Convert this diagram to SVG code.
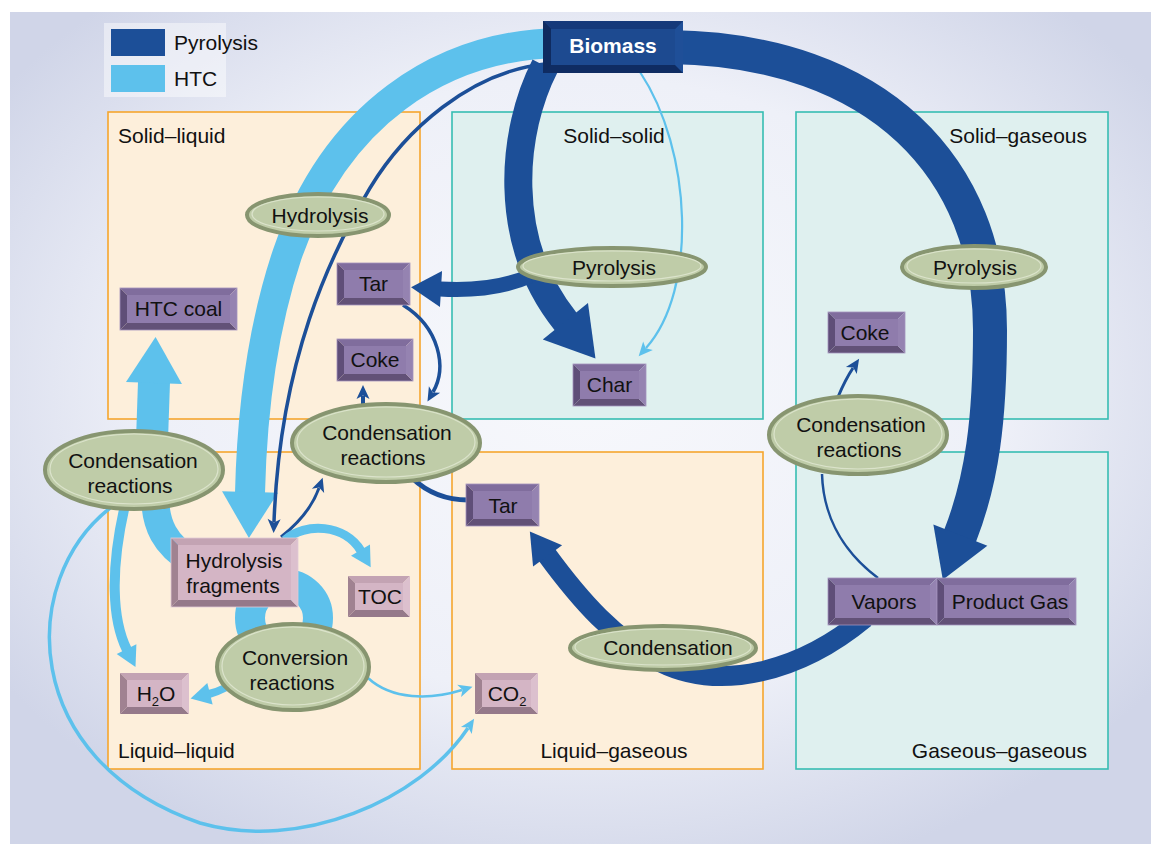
<svg xmlns="http://www.w3.org/2000/svg" width="1161" height="844" viewBox="0 0 1161 844">
<style>
text{font-family:"Liberation Sans",Arial,Helvetica,sans-serif;font-size:21px;fill:#111}
.c{text-anchor:middle}
.r{text-anchor:end}
.po{fill:#fdefdb;stroke:#f5a62d;stroke-width:1.6}
.pt{fill:#dff0ef;stroke:#36bdb2;stroke-width:1.6}
.dk{fill:none;stroke:#1c4f98}
.lt{fill:none;stroke:#5dc1ec}
.el{fill:#bfcca8;stroke:#879570;stroke-width:4}
.eh{fill:none;stroke:#dbe3cb;stroke-width:1.2}
.pf{fill:#8f7cac}.pt_{fill:#806d9d}.pr{fill:#9583b1}.pl{fill:#5f4e78}.pb{fill:#625177}
.kf{fill:#d4b5c5}.kt{fill:#c3a3b3}.kr{fill:#dcc0ce}.kl{fill:#a08291}.kb{fill:#95798a}
.bf{fill:#1d4a90}.bt{fill:#15397a}.br{fill:#1f4f98}.bl{fill:#0f2b60}.bb{fill:#0f2c62}
.edge{fill:none;stroke:#a493bd;stroke-width:0.8}
.edgek{fill:none;stroke:#e2cbd6;stroke-width:0.8}
</style>
<defs>
<radialGradient id="bg" cx="0.5" cy="0.45" r="0.62">
<stop offset="0" stop-color="#f7f8fc"/>
<stop offset="0.6" stop-color="#eef0f8"/>
<stop offset="1" stop-color="#d0d5e8"/>
</radialGradient>
<marker id="aD" markerUnits="userSpaceOnUse" markerWidth="15" markerHeight="14" refX="3" refY="6.5" orient="auto" overflow="visible"><path d="M0,0 L14,6.5 L0,13 L3.5,6.5 z" fill="#1c4f98"/></marker>
<marker id="aL" markerUnits="userSpaceOnUse" markerWidth="15" markerHeight="14" refX="3" refY="6.5" orient="auto" overflow="visible"><path d="M0,0 L14,6.5 L0,13 L3.5,6.5 z" fill="#5dc1ec"/></marker>
<marker id="aLm" markerUnits="userSpaceOnUse" markerWidth="21" markerHeight="23" refX="1" refY="11" orient="auto" overflow="visible"><path d="M0,0 L20,11 L0,22 z" fill="#5dc1ec"/></marker>
<marker id="aLb" markerUnits="userSpaceOnUse" markerWidth="47" markerHeight="57" refX="1" refY="28" orient="auto" overflow="visible"><path d="M0,0 L46,28 L0,56 z" fill="#5dc1ec"/></marker>
<marker id="aDb" markerUnits="userSpaceOnUse" markerWidth="49" markerHeight="59" refX="1" refY="29" orient="auto" overflow="visible"><path d="M0,0 L48,29 L0,58 z" fill="#1c4f98"/></marker>
<marker id="aDm" markerUnits="userSpaceOnUse" markerWidth="31" markerHeight="37" refX="1" refY="18" orient="auto" overflow="visible"><path d="M0,0 L30,18 L0,36 z" fill="#1c4f98"/></marker>
</defs>

<rect x="10" y="12" width="1141" height="832" fill="url(#bg)"/>

<g id="legend">
<rect x="104" y="23" width="122" height="74" fill="#ffffff" opacity="0.45"/>
<rect x="111" y="29" width="54" height="27" fill="#1c4f98"/>
<text x="174" y="50">Pyrolysis</text>
<rect x="111" y="65" width="54" height="27" fill="#5dc1ec"/>
<text x="174" y="86">HTC</text>
</g>

<g id="panels">
<rect class="po" x="108" y="112" width="312" height="307"/>
<rect class="pt" x="452" y="112" width="311" height="307"/>
<rect class="pt" x="796" y="112" width="312" height="307"/>
<rect class="po" x="108" y="452" width="312" height="317"/>
<rect class="po" x="452" y="452" width="311" height="317"/>
<rect class="pt" x="796" y="452" width="312" height="317"/>
<text x="118" y="143">Solid–liquid</text>
<text class="c" x="614" y="143">Solid–solid</text>
<text class="r" x="1087" y="143">Solid–gaseous</text>
<text x="118" y="758">Liquid–liquid</text>
<text class="c" x="614" y="758">Liquid–gaseous</text>
<text class="r" x="1087" y="758">Gaseous–gaseous</text>
</g>

<g id="connectors">
<!-- HTC big band biomass -> hydrolysis fragments -->
<path class="lt" stroke-width="30" d="M 560 43 C 440 45, 335 115, 287 255 C 262 330, 252 410, 250 493" marker-end="url(#aLb)"/>
<!-- Pyrolysis thin line biomass -> hydrolysis fragments -->
<path class="dk" stroke-width="3.5" d="M 545 64 C 470 72, 405 130, 370 188 C 330 255, 280 360, 274 522" marker-end="url(#aD)"/>
<!-- biomass -> char (pyrolysis) -->
<path class="dk" stroke-width="28" d="M 545 66 C 512 130, 500 240, 566 322" marker-end="url(#aDb)"/>
<!-- biomass -> char (HTC) -->
<path class="lt" stroke-width="2.2" d="M 640 72 C 692 150, 698 290, 646 348" marker-end="url(#aL)"/>
<!-- biomass -> vapors/product gas -->
<path class="dk" stroke-width="34" d="M 670 47 C 880 50, 990 170, 990 330 C 990 420, 982 480, 960 536" marker-end="url(#aDb)"/>
<!-- pyrolysis -> tar -->
<path class="dk" stroke-width="15" d="M 530 276 C 505 287, 475 291, 440 289" marker-end="url(#aDm)"/>
<!-- tar -> condensation -->
<path class="dk" stroke-width="3.5" d="M 403 305 C 440 328, 447 368, 433 392" marker-end="url(#aD)"/>
<!-- condensation -> coke -->
<path class="dk" stroke-width="4" d="M 363 406 L 363 396" marker-end="url(#aD)"/>
<!-- condensation -> tar (liquid-gaseous) -->
<path class="dk" stroke-width="5" d="M 412 478 C 430 495, 450 500, 468 500"/>
<!-- hydrolysis fragments -> condensation -->
<path class="dk" stroke-width="3" d="M 281 537 C 300 522, 313 505, 319 488" marker-end="url(#aD)"/>
<!-- vapors -> condensation -> tar -->
<path class="dk" stroke-width="20" d="M 865 618 C 800 672, 720 692, 660 662 C 615 640, 580 600, 547 555" marker-end="url(#aDm)"/>
<!-- vapors -> condensation reactions (right) -->
<path class="dk" stroke-width="2.5" d="M 878 578 C 838 548, 823 510, 822 474"/>
<!-- condensation (right) -> coke -->
<path class="dk" stroke-width="3" d="M 838 397 C 843 385, 847 377, 853 368" marker-end="url(#aD)"/>
<!-- condensation (left) -> HTC coal -->
<path class="lt" stroke-width="32" d="M 152 440 L 154 382" marker-end="url(#aLb)"/>
<!-- condensation (left) <-> hydrolysis fragments -->
<path class="lt" stroke-width="28" d="M 155 495 C 155 525, 165 545, 192 561"/>
<!-- condensation (left) -> H2O -->
<path class="lt" stroke-width="10" d="M 125 505 C 110 570, 112 620, 127 650" marker-end="url(#aLm)"/>
<!-- loop fragments <-> conversion -->
<circle cx="284" cy="618" r="34" fill="none" stroke="#5dc1ec" stroke-width="30"/>
<!-- fragments -> TOC -->
<path class="lt" stroke-width="9" d="M 285 540 C 305 522, 345 524, 361 551" marker-end="url(#aLm)"/>
<!-- conversion -> H2O -->
<path class="lt" stroke-width="8" d="M 240 678 Q 225 690 209 694" marker-end="url(#aLm)"/>
<!-- conversion -> CO2 -->
<path class="lt" stroke-width="2.5" d="M 368 678 C 392 700, 430 700, 462 690" marker-end="url(#aL)"/>
<!-- condensation (left) -> CO2 big loop -->
<path class="lt" stroke-width="3.5" d="M 110 508 C 18 580, 18 760, 200 823 C 300 852, 420 800, 468 728" marker-end="url(#aL)"/>
</g>

<g id="biomass">
<rect class="bb" x="543" y="21" width="140" height="52"/>
<polygon class="bt" points="543,21 683,21 675,29 551,29"/>
<polygon class="bl" points="543,21 551,29 551,65 543,73"/>
<polygon class="bb" points="543,73 551,65 675,65 683,73"/>
<polygon class="br" points="683,21 683,73 675,65 675,29"/>
<rect class="bf" x="551" y="29" width="124" height="36"/>
<text class="c" x="613" y="53" style="fill:#fff;font-weight:bold">Biomass</text>
</g>

<g id="htc-coal">
<polygon class="pt_" points="120,288 237,288 230,295 127,295"/>
<polygon class="pl" points="120,288 127,295 127,323 120,330"/>
<polygon class="pb" points="120,330 127,323 230,323 237,330"/>
<polygon class="pr" points="237,288 237,330 230,323 230,295"/>
<rect class="pf" x="127" y="295" width="103" height="28"/>
<rect class="edge" x="120" y="288" width="117" height="42"/>
<text class="c" x="178.5" y="316">HTC coal</text>
</g>

<g id="tar-top">
<polygon class="pt_" points="337,263 410,263 403,270 344,270"/>
<polygon class="pl" points="337,263 344,270 344,298 337,305"/>
<polygon class="pb" points="337,305 344,298 403,298 410,305"/>
<polygon class="pr" points="410,263 410,305 403,298 403,270"/>
<rect class="pf" x="344" y="270" width="59" height="28"/>
<rect class="edge" x="337" y="263" width="73" height="42"/>
<text class="c" x="373.5" y="291">Tar</text>
</g>

<g id="coke-left">
<polygon class="pt_" points="337,339 413,339 406,346 344,346"/>
<polygon class="pl" points="337,339 344,346 344,374 337,381"/>
<polygon class="pb" points="337,381 344,374 406,374 413,381"/>
<polygon class="pr" points="413,339 413,381 406,374 406,346"/>
<rect class="pf" x="344" y="346" width="62" height="28"/>
<rect class="edge" x="337" y="339" width="76" height="42"/>
<text class="c" x="375" y="367">Coke</text>
</g>

<g id="char">
<polygon class="pt_" points="573,364 646,364 639,371 580,371"/>
<polygon class="pl" points="573,364 580,371 580,399 573,406"/>
<polygon class="pb" points="573,406 580,399 639,399 646,406"/>
<polygon class="pr" points="646,364 646,406 639,399 639,371"/>
<rect class="pf" x="580" y="371" width="59" height="28"/>
<rect class="edge" x="573" y="364" width="73" height="42"/>
<text class="c" x="609.5" y="392">Char</text>
</g>

<g id="coke-right">
<polygon class="pt_" points="828,312 905,312 898,319 835,319"/>
<polygon class="pl" points="828,312 835,319 835,346 828,353"/>
<polygon class="pb" points="828,353 835,346 898,346 905,353"/>
<polygon class="pr" points="905,312 905,353 898,346 898,319"/>
<rect class="pf" x="835" y="319" width="63" height="27"/>
<rect class="edge" x="828" y="312" width="77" height="41"/>
<text class="c" x="865" y="340">Coke</text>
</g>

<g id="tar-mid">
<polygon class="pt_" points="466,484 539,484 532,491 473,491"/>
<polygon class="pl" points="466,484 473,491 473,519 466,526"/>
<polygon class="pb" points="466,526 473,519 532,519 539,526"/>
<polygon class="pr" points="539,484 539,526 532,519 532,491"/>
<rect class="pf" x="473" y="491" width="59" height="28"/>
<rect class="edge" x="466" y="484" width="73" height="42"/>
<text class="c" x="503" y="513">Tar</text>
</g>

<g id="vapors">
<polygon class="pt_" points="828,578 937,578 930,585 835,585"/>
<polygon class="pl" points="828,578 835,585 835,618 828,625"/>
<polygon class="pb" points="828,625 835,618 930,618 937,625"/>
<polygon class="pr" points="937,578 937,625 930,618 930,585"/>
<rect class="pf" x="835" y="585" width="95" height="33"/>
<rect class="edge" x="828" y="578" width="109" height="47"/>
<text class="c" x="884" y="609">Vapors</text>
</g>

<g id="product-gas">
<polygon class="pt_" points="937,578 1076,578 1069,585 944,585"/>
<polygon class="pl" points="937,578 944,585 944,618 937,625"/>
<polygon class="pb" points="937,625 944,618 1069,618 1076,625"/>
<polygon class="pr" points="1076,578 1076,625 1069,618 1069,585"/>
<rect class="pf" x="944" y="585" width="125" height="33"/>
<rect class="edge" x="937" y="578" width="139" height="47"/>
<text class="c" x="1010" y="609">Product Gas</text>
</g>

<g id="hydrolysis-fragments">
<polygon class="kt" points="171,538 298,538 291,545 178,545"/>
<polygon class="kl" points="171,538 178,545 178,600 171,607"/>
<polygon class="kb" points="171,607 178,600 291,600 298,607"/>
<polygon class="kr" points="298,538 298,607 291,600 291,545"/>
<rect class="kf" x="178" y="545" width="113" height="55"/>
<rect class="edgek" x="171" y="538" width="127" height="69"/>
<text class="c" x="234" y="568">Hydrolysis</text>
<text class="c" x="233" y="593">fragments</text>
</g>

<g id="toc">
<polygon class="kt" points="348,576 410,576 403,583 355,583"/>
<polygon class="kl" points="348,576 355,583 355,610 348,617"/>
<polygon class="kb" points="348,617 355,610 403,610 410,617"/>
<polygon class="kr" points="410,576 410,617 403,610 403,583"/>
<rect class="kf" x="355" y="583" width="48" height="27"/>
<text class="c" x="380" y="604">TOC</text>
</g>

<g id="h2o">
<polygon class="kt" points="120,673 189,673 182,680 127,680"/>
<polygon class="kl" points="120,673 127,680 127,707 120,714"/>
<polygon class="kb" points="120,714 127,707 182,707 189,714"/>
<polygon class="kr" points="189,673 189,714 182,707 182,680"/>
<rect class="kf" x="127" y="680" width="55" height="27"/>
<text class="c" x="156" y="701">H<tspan font-size="13" dy="5">2</tspan><tspan dy="-5">O</tspan></text>
</g>

<g id="co2">
<polygon class="kt" points="475,673 538,673 531,680 482,680"/>
<polygon class="kl" points="475,673 482,680 482,707 475,714"/>
<polygon class="kb" points="475,714 482,707 531,707 538,714"/>
<polygon class="kr" points="538,673 538,714 531,707 531,680"/>
<rect class="kf" x="482" y="680" width="49" height="27"/>
<text class="c" x="507" y="701">CO<tspan font-size="13" dy="5">2</tspan></text>
</g>

<g id="hydrolysis">
<ellipse class="el" cx="318" cy="215" rx="71" ry="21"/>
<ellipse class="eh" cx="318" cy="214" rx="66" ry="17"/>
<text class="c" x="320" y="223">Hydrolysis</text>
</g>

<g id="pyrolysis-mid">
<ellipse class="el" cx="612" cy="267" rx="94" ry="19"/>
<ellipse class="eh" cx="612" cy="266" rx="89" ry="15"/>
<text class="c" x="614" y="275">Pyrolysis</text>
</g>

<g id="pyrolysis-right">
<ellipse class="el" cx="974" cy="267" rx="72" ry="21"/>
<ellipse class="eh" cx="974" cy="266" rx="67" ry="17"/>
<text class="c" x="975" y="275">Pyrolysis</text>
</g>

<g id="condensation-left">
<ellipse class="el" cx="134" cy="470" rx="89" ry="39"/>
<ellipse class="eh" cx="134" cy="469" rx="84" ry="35"/>
<text class="c" x="133" y="468">Condensation</text>
<text class="c" x="130" y="493">reactions</text>
</g>

<g id="condensation-mid">
<ellipse class="el" cx="386" cy="443" rx="94" ry="39"/>
<ellipse class="eh" cx="386" cy="442" rx="89" ry="35"/>
<text class="c" x="387" y="440">Condensation</text>
<text class="c" x="383" y="465">reactions</text>
</g>

<g id="condensation-right">
<ellipse class="el" cx="858" cy="435" rx="89" ry="39"/>
<ellipse class="eh" cx="858" cy="434" rx="84" ry="35"/>
<text class="c" x="861" y="432">Condensation</text>
<text class="c" x="859" y="457">reactions</text>
</g>

<g id="conversion">
<ellipse class="el" cx="293" cy="667" rx="76" ry="43"/>
<ellipse class="eh" cx="293" cy="666" rx="71" ry="39"/>
<text class="c" x="295" y="665">Conversion</text>
<text class="c" x="292" y="690">reactions</text>
</g>

<g id="condensation-bottom">
<ellipse class="el" cx="663" cy="648" rx="93" ry="22"/>
<ellipse class="eh" cx="663" cy="647" rx="88" ry="18"/>
<text class="c" x="668" y="655">Condensation</text>
</g>
</svg>
